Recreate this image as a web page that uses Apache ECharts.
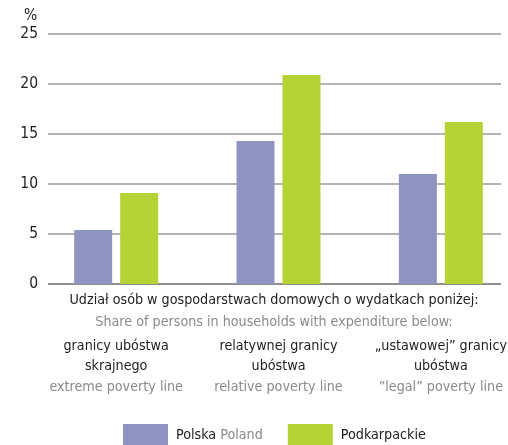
<!DOCTYPE html>
<html><head><meta charset="utf-8">
<script src="https://cdn.jsdelivr.net/npm/echarts@6/dist/echarts.min.js"></script>
<style>html,body{margin:0;padding:0;background:#fff}#c{width:508px;height:445px}</style>
</head><body><div id="c"></div>
<script>
const categoriesPl = ['granicy ubóstwa\nskrajnego', 'relatywnej granicy\nubóstwa', '„ustawowej” granicy\nubóstwa'];
const categoriesEn = ['extreme poverty line', 'relative poverty line', '”legal” poverty line'];
const polska = [5.4, 14.3, 11.0];
const podkarpackie = [9.1, 20.9, 16.2];
const yTicks = [0, 5, 10, 15, 20, 25];

const FONT = '"Liberation Sans Narrow", "DejaVu Sans Condensed", "Roboto Condensed", sans-serif';
const FS = 14.2;
const chart = echarts.init(document.getElementById('c'));
const cats = categoriesPl.map((p, i) => p + '\n' + categoriesEn[i]);
chart.setOption({
  animation: false,
  textStyle: { fontFamily: FONT },
  grid: [
    { left: 35, width: 487, top: 34, bottom: 161, containLabel: false, outerBoundsMode: 'none' },
    { left: 48, right: 7, top: 34, bottom: 161, containLabel: false, outerBoundsMode: 'none' }
  ],
  xAxis: [
    { type: 'category', gridIndex: 0, data: cats,
      axisLine: { show: false }, axisTick: { show: false },
      axisLabel: { margin: 52, interval: 0,
        formatter: function (v) {
          const parts = v.split('\n');
          return '{a|' + parts[0] + '}\n{a|' + parts[1] + '}\n{b|' + parts[2] + '}';
        },
        rich: {
          a: { fontFamily: FONT, fontSize: FS, color: '#1e1e1e', lineHeight: 20 },
          b: { fontFamily: FONT, fontSize: FS, color: '#8a8a8a', lineHeight: 22 }
        } } },
    { type: 'category', gridIndex: 1, data: cats, show: false }
  ],
  yAxis: [
    { type: 'value', gridIndex: 0, min: 0, max: 25, interval: 5, show: false },
    { type: 'value', gridIndex: 1, min: 0, max: 25, interval: 5,
      axisLine: { show: false }, axisTick: { show: false },
      axisLabel: { margin: 10, fontFamily: FONT, fontSize: 15.5, color: '#1e1e1e',
        formatter: v => yTicks.includes(v) ? String(v) : '' },
      splitLine: { lineStyle: { color: '#9a9a9a', width: 1.5 } } }
  ],
  legend: {
    bottom: -6, left: 118, itemWidth: 45, itemHeight: 22, itemGap: 25,
    icon: 'rect',
    textStyle: { fontFamily: FONT, fontSize: FS, color: '#1e1e1e', padding: [0, 0, 0, 3],
      rich: { p: { fontFamily: FONT, fontSize: FS, color: '#1e1e1e' },
              e: { fontFamily: FONT, fontSize: FS, color: '#8a8a8a' } } },
    formatter: function (n) { return n === 'Polska' ? '{p|Polska} {e|Poland}' : '{p|' + n + '}'; },
    data: ['Polska', 'Podkarpackie']
  },
  graphic: [
    { type: 'text', left: 24, top: 8, style: { text: '%', font: '15.5px ' + FONT, fill: '#1e1e1e' } },
    { type: 'line', shape: { x1: 48, y1: 284, x2: 501, y2: 284 }, style: { stroke: '#6e6e6e', lineWidth: 2 } },
    { type: 'text', x: 274, y: 300, style: { text: 'Udział osób w gospodarstwach domowych o wydatkach poniżej:', font: FS + 'px ' + FONT, fill: '#1e1e1e', align: 'center', verticalAlign: 'middle' } },
    { type: 'text', x: 274, y: 322, style: { text: 'Share of persons in households with expenditure below:', font: FS + 'px ' + FONT, fill: '#8a8a8a', align: 'center', verticalAlign: 'middle' } }
  ],
  series: [
    { name: 'Polska', type: 'bar', xAxisIndex: 0, yAxisIndex: 0, data: polska,
      barWidth: 38, barGap: '21%', itemStyle: { color: '#8f94c0' } },
    { name: 'Podkarpackie', type: 'bar', xAxisIndex: 0, yAxisIndex: 0, data: podkarpackie,
      barWidth: 38, barGap: '21%', itemStyle: { color: '#b5d334' } }
  ]
});
</script></body></html>
